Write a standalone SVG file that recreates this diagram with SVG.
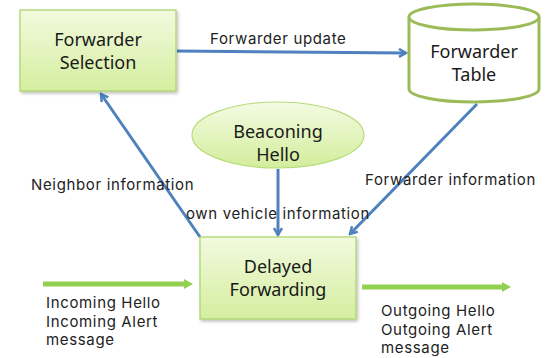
<svg xmlns="http://www.w3.org/2000/svg" width="545" height="358" viewBox="0 0 545 358">
  <style>
    .lbl { font-family: Inter, "Noto Sans", sans-serif; font-size: 15px; letter-spacing: 0.65px; fill: #222; }
    .node { font-family: "Noto Sans", "Liberation Sans", sans-serif; font-size: 18px; fill: #1a1a1a; text-anchor: middle; }
    .box { fill: url(#boxFill); stroke: #a8d468; stroke-width: 1.2; filter: url(#shadow); }
    .blue { stroke: #4f81bd; stroke-width: 3; fill: none; marker-end: url(#blueHead); }
    .green { stroke: #92d050; stroke-width: 5; fill: none; marker-end: url(#greenHead); }
  </style>
  <defs>
    <linearGradient id="boxFill" x1="0" y1="0" x2="0" y2="1">
      <stop offset="0" stop-color="#f2fadf"/>
      <stop offset="1" stop-color="#d5ee9f"/>
    </linearGradient>
    <linearGradient id="ellFill" x1="0" y1="0" x2="0" y2="1">
      <stop offset="0" stop-color="#f4fbe2"/>
      <stop offset="1" stop-color="#d3ed9c"/>
    </linearGradient>
    <filter id="shadow" x="-10%" y="-10%" width="130%" height="130%">
      <feDropShadow dx="1.5" dy="2" stdDeviation="1.5" flood-color="#000" flood-opacity="0.25"/>
    </filter>
    <marker id="blueHead" markerWidth="10" markerHeight="10" refX="8" refY="5" orient="auto" markerUnits="userSpaceOnUse">
      <path d="M1,1 L8,5 L1,9" fill="none" stroke="#4f81bd" stroke-width="2.5"/>
    </marker>
    <marker id="greenHead" markerWidth="10" markerHeight="12" refX="2" refY="6" orient="auto" markerUnits="userSpaceOnUse">
      <path d="M0,1 L9,6 L0,11 Z" fill="#92d050"/>
    </marker>
  </defs>

  <!-- connectors -->
  <g id="connectors">
    <line class="blue" x1="177" y1="51" x2="406" y2="53"/>
    <line class="blue" x1="200" y1="237" x2="101" y2="94"/>
    <line class="blue" x1="278" y1="169" x2="278" y2="235"/>
    <line class="blue" x1="477" y1="104" x2="350" y2="234"/>
    <line class="green" x1="43" y1="284" x2="186" y2="284"/>
    <line class="green" x1="362" y1="287" x2="504" y2="287"/>
  </g>

  <!-- connector labels -->
  <g id="labels">
    <text class="lbl" x="210" y="44">Forwarder update</text>
    <text class="lbl" x="31" y="190">Neighbor information</text>
    <text class="lbl" x="186" y="219">own vehicle information</text>
    <text class="lbl" x="365" y="185">Forwarder information</text>
    <text class="lbl" x="46" y="308">Incoming Hello</text>
    <text class="lbl" x="46" y="326.5">Incoming Alert</text>
    <text class="lbl" x="46" y="345">message</text>
    <text class="lbl" x="381" y="316">Outgoing Hello</text>
    <text class="lbl" x="381" y="334.5">Outgoing Alert</text>
    <text class="lbl" x="381" y="353">message</text>
  </g>

  <g id="forwarder-selection">
    <rect class="box" x="20" y="10" width="156" height="81"/>
    <text class="node" x="98" y="46">Forwarder</text>
    <text class="node" x="98" y="69">Selection</text>
  </g>

  <g id="forwarder-table">
    <path d="M409,17 L409,89 A65,13 0 0 0 539,89 L539,17" fill="#fff" stroke="#9bbb59" stroke-width="3"/>
    <ellipse cx="474" cy="17" rx="65" ry="13" fill="#fff" stroke="#9bbb59" stroke-width="3"/>
    <text class="node" x="474" y="58">Forwarder</text>
    <text class="node" x="474" y="81">Table</text>
  </g>

  <g id="beaconing-hello">
    <ellipse cx="278" cy="135" rx="86" ry="33" fill="url(#ellFill)" stroke="#b6dc7a" stroke-width="1.2"/>
    <text class="node" x="278" y="138">Beaconing</text>
    <text class="node" x="278" y="161">Hello</text>
  </g>

  <g id="delayed-forwarding">
    <rect class="box" x="200" y="237" width="156" height="82"/>
    <text class="node" x="278" y="273">Delayed</text>
    <text class="node" x="278" y="296">Forwarding</text>
  </g>
</svg>
